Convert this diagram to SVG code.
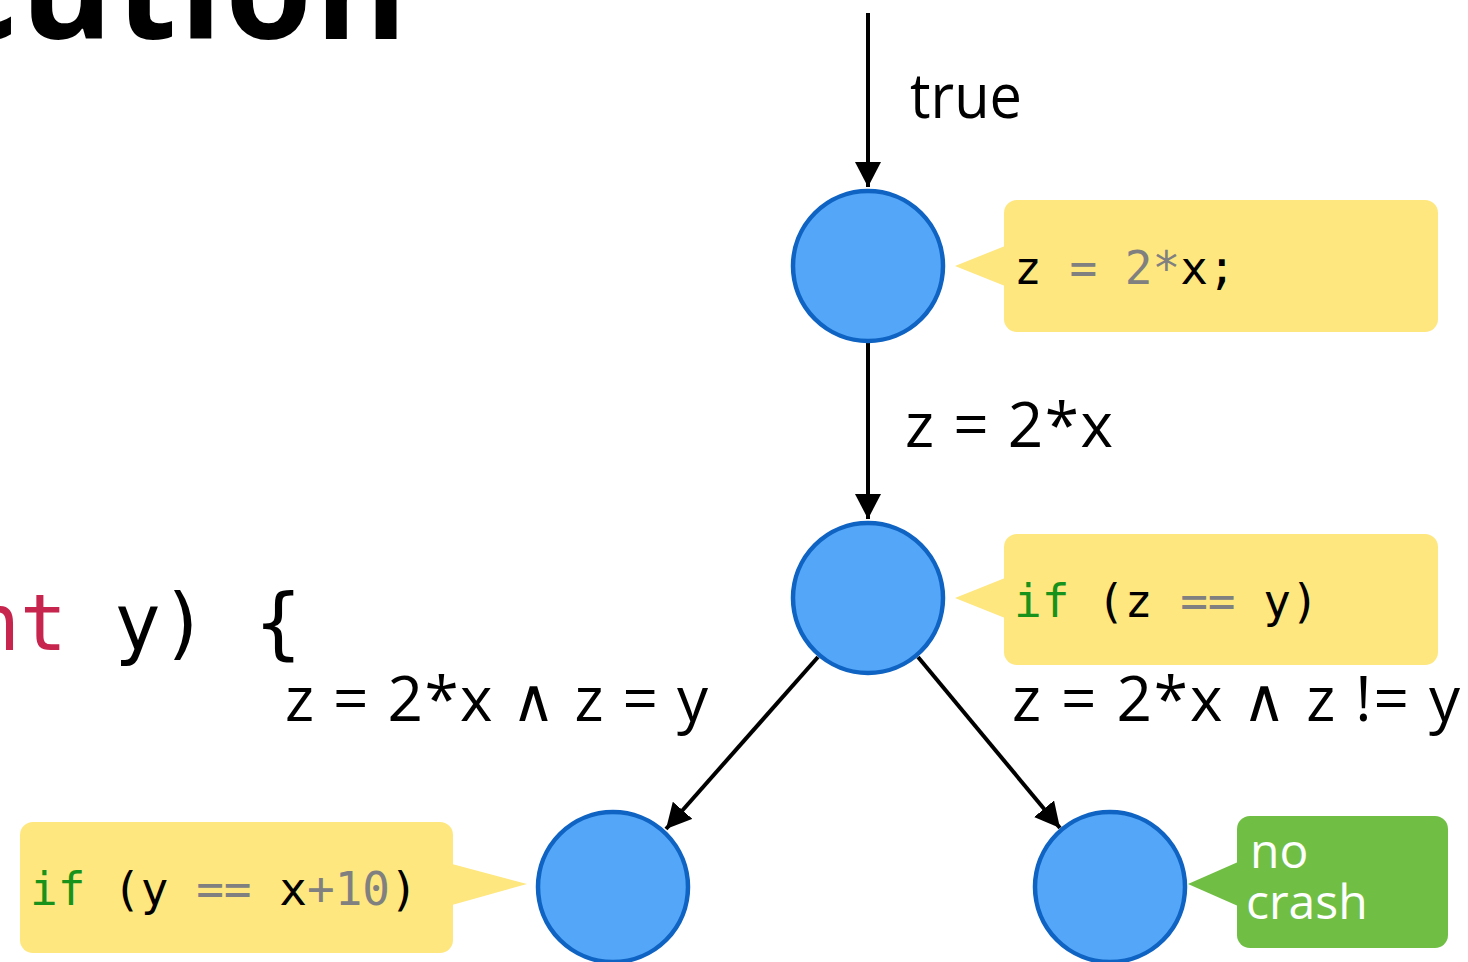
<svg xmlns="http://www.w3.org/2000/svg" width="1468" height="962" viewBox="0 0 1468 962">
<style>
.node{fill:#53A6F8;stroke:#0F63C2;stroke-width:4.5}
.conn{stroke:#000;stroke-width:4;fill:none}
.lbl{font-family:"Open Sans","Noto Sans",sans-serif;font-size:62px;fill:#000}
.and{font-family:"DejaVu Sans",sans-serif;font-size:60px}
.code{font-family:"DejaVu Sans Mono",monospace;font-size:46px;fill:#000;white-space:pre}
.g{fill:#808080}
.kw{fill:#17921A}
.callout{fill:#FEE77F}
.ok{fill:#70BF44}
</style>
<defs>
<marker id="ah" markerUnits="userSpaceOnUse" markerWidth="26" markerHeight="26" refX="25" refY="13" orient="auto">
<path d="M0,0 L25,13 L0,26 z" fill="#000"/>
</marker>
</defs>
<rect width="1468" height="962" fill="#fff"/>
<g id="title">
<text x="410" y="39" text-anchor="end" font-family="'Open Sans','Noto Sans',sans-serif" font-weight="700" font-size="140" letter-spacing="3">cution</text>
</g>
<g id="code-line">
<text x="-27" y="650" font-family="'DejaVu Sans Mono',monospace" font-size="78" style="white-space:pre"><tspan fill="#C7254E">nt</tspan><tspan fill="#000"> y) {</tspan></text>
</g>
<g id="connectors">
<line class="conn" x1="868" y1="13" x2="868" y2="187" marker-end="url(#ah)"/>
<line class="conn" x1="868" y1="343" x2="868" y2="519" marker-end="url(#ah)"/>
<line class="conn" x1="818" y1="657" x2="666" y2="829" marker-end="url(#ah)"/>
<line class="conn" x1="918" y1="657" x2="1060" y2="828" marker-end="url(#ah)"/>
<text class="lbl" x="910" y="118" textLength="112" lengthAdjust="spacingAndGlyphs">true</text>
<text class="lbl" x="905" y="447" textLength="208" style="white-space:pre">z = 2*x</text>
<text class="lbl" x="285" y="721" textLength="423" style="white-space:pre">z = 2*x <tspan class="and">∧</tspan> z = y</text>
<text class="lbl" x="1012" y="721" textLength="448" style="white-space:pre">z = 2*x <tspan class="and">∧</tspan> z != y</text>
</g>
<g id="n1">
<circle class="node" cx="868" cy="266" r="75"/>
</g>
<g id="c1">
<rect class="callout" x="1004" y="200" width="434" height="132" rx="13"/>
<path class="callout" d="M1005,246 L955,266 L1005,286 z"/>
<text class="code" x="1014" y="284"><tspan>z</tspan><tspan class="g"> = 2*</tspan><tspan>x;</tspan></text>
</g>
<g id="n2">
<circle class="node" cx="868" cy="598" r="75"/>
</g>
<g id="c2">
<rect class="callout" x="1004" y="534" width="434" height="131" rx="13"/>
<path class="callout" d="M1005,578 L955,598 L1005,618 z"/>
<text class="code" x="1014" y="617"><tspan class="kw">if</tspan><tspan> (z </tspan><tspan class="g">==</tspan><tspan> y)</tspan></text>
</g>
<g id="n3">
<circle class="node" cx="613" cy="887" r="75"/>
</g>
<g id="c3">
<rect class="callout" x="20" y="822" width="433" height="131" rx="13"/>
<path class="callout" d="M452,864 L527,884 L452,905 z"/>
<text class="code" x="30" y="905"><tspan class="kw">if</tspan><tspan> (y </tspan><tspan class="g">==</tspan><tspan> x</tspan><tspan class="g">+10</tspan><tspan>)</tspan></text>
</g>
<g id="n4">
<circle class="node" cx="1110" cy="887" r="75"/>
</g>
<g id="c4">
<rect class="ok" x="1237" y="816" width="211" height="132" rx="13"/>
<path class="ok" d="M1238,862 L1188,884 L1238,906 z"/>
<text font-family="'Open Sans','Noto Sans',sans-serif" font-size="48" fill="#fff"><tspan x="1250" y="868">no</tspan><tspan x="1246" y="919">crash</tspan></text>
</g>
</svg>
